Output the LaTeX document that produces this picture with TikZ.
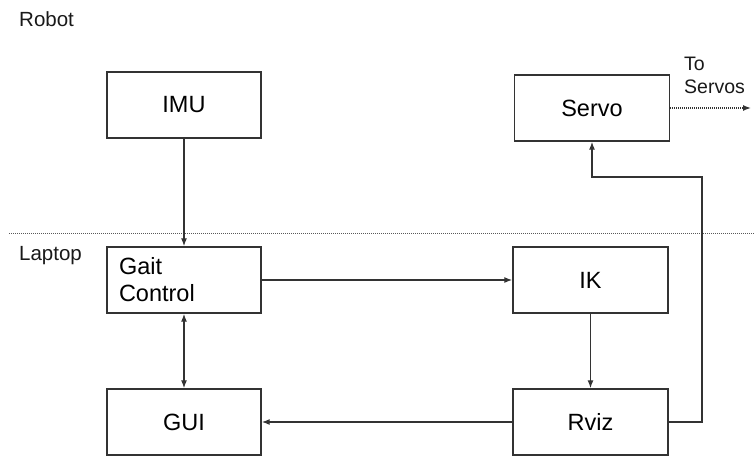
\documentclass[tikz,border=0pt]{standalone}
\usepackage{fontspec}
\setmainfont{Liberation Sans}
\usetikzlibrary{arrows.meta}
\begin{document}
\begin{tikzpicture}[x=1pt,y=-1pt,
  blk/.style={draw=black!80, line width=1.4pt, rectangle, minimum width=154pt, minimum height=66pt, inner sep=0pt, font=\fontsize{23.5}{27}\selectfont},
  lbl/.style={font=\fontsize{20.5}{23}\selectfont, inner sep=0pt, anchor=west, text=black!90},
  arr/.style={draw=black!80, line width=1.3pt, -{Latex[length=8pt,width=6pt]}},
  darr/.style={draw=black!80, line width=1.3pt, {Latex[length=8pt,width=6pt]}-{Latex[length=8pt,width=6pt]}},
  sep/.style={draw=black!65, line width=1pt, dash pattern=on 1pt off 1pt}]
\useasboundingbox (0,0) rectangle (754,456);
\node[lbl] (robot) at (19,19) {Robot};
\node[lbl] (laptop) at (19,256) {Laptop};
\node[blk] (imu) at (184,105) {IMU};
\node[blk, minimum width=155pt] (servo) at (592,108) {Servo};
\node[blk, text width=130pt, align=left, inner xsep=12pt] (gait) at (184,280) {Gait\\Control};
\node[blk, minimum width=155pt] (ik) at (590.5,280) {IK};
\node[blk] (gui) at (184,422) {GUI};
\node[blk, minimum width=155pt] (rviz) at (590.5,422) {Rviz};
\node[lbl, align=left, font=\fontsize{19.5}{23}\selectfont] (tos) at (684,75) {To\\Servos};
\coordinate (dl1) at (9,233);
\coordinate (dl2) at (754,233);
\coordinate (c2) at (702,177);
\coordinate (ts) at (751,108);
\draw[sep] (dl1) -- (dl2);
\draw[arr] (imu) -- (gait);
\draw[arr] (gait) -- (ik);
\draw[darr] (gait) -- (gui);
\draw[arr] (ik) -- (rviz);
\draw[arr] (rviz) -- (gui);
\draw[arr] (rviz.east) -| (c2) -| (servo.south);
\draw[draw=black!80, line width=1.4pt, dash pattern=on 1pt off 1pt, -{Latex[length=8pt,width=6pt]}] (servo.east) -- (ts);
\end{tikzpicture}
\end{document}
